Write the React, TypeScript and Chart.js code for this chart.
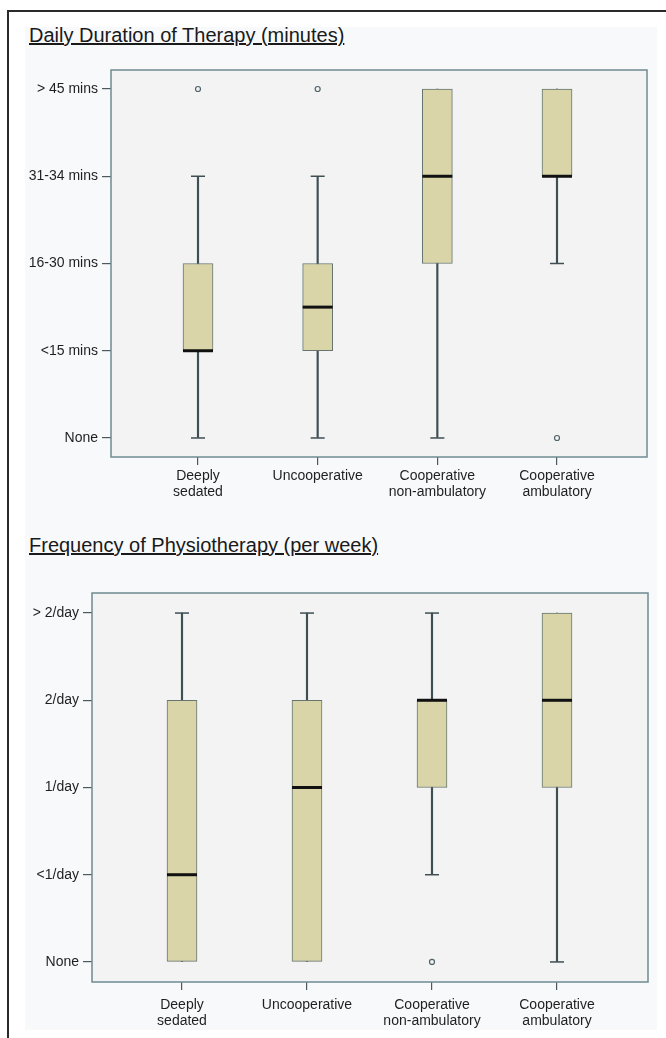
import React, { useEffect, useRef } from 'react';
import { Chart, registerables } from 'chart.js';

Chart.register(...registerables);

// ---------- data ----------
const categories: string[][] = [
  ['Deeply', 'sedated'],
  ['Uncooperative'],
  ['Cooperative', 'non-ambulatory'],
  ['Cooperative', 'ambulatory'],
];

// Daily duration: 0=None, 1=<15, 2=16-30, 3=31-34, 4=>45
const durationTicks = ['None', '<15 mins', '16-30 mins', '31-34 mins', '> 45 mins'];
const durationLow = [0, 0, 0, 2];
const durationQ1 = [1, 1, 2, 3];
const durationMedian = [1, 1.5, 3, 3];
const durationQ3 = [2, 2, 4, 4];
const durationHigh = [3, 3, 4, 4];
const durationOutliers = [[4], [4], [], [0]];

// Frequency: 0=None, 1=<1/day, 2=1/day, 3=2/day, 4=>2/day
const frequencyTicks = ['None', '<1/day', '1/day', '2/day', '> 2/day'];
const frequencyLow = [0, 0, 1, 0];
const frequencyQ1 = [0, 0, 2, 2];
const frequencyMedian = [1, 2, 3, 3];
const frequencyQ3 = [3, 3, 3, 4];
const frequencyHigh = [4, 4, 4, 4];
const frequencyOutliers = [[], [], [0], []];

const FONT = "'Liberation Sans', Arial, sans-serif";
const TEXT = '#1f1f1f';
const TICK_LINE = '#4a5a5f';

const plotFrame = {
  id: 'plotFrame',
  beforeDraw(chart: any) {
    const { ctx, chartArea } = chart;
    const { left, top, right, bottom } = chartArea;
    ctx.save();
    ctx.fillStyle = '#f3f3f3';
    ctx.fillRect(left, top, right - left, bottom - top);
    ctx.restore();
  },
  afterDatasetsDraw(chart: any) {
    const { ctx, chartArea } = chart;
    const { left, top, right, bottom } = chartArea;
    ctx.save();
    ctx.strokeStyle = '#6f8b90';
    ctx.lineWidth = 1.5;
    ctx.strokeRect(left, top, right - left, bottom - top);
    ctx.restore();
  },
};

interface Spec {
  ticks: string[];
  low: number[];
  q1: number[];
  median: number[];
  q3: number[];
  high: number[];
  outliers: number[][];
  xMin: number;
  xMax: number;
  yMin: number;
  yMax: number;
  yAxisWidth: number;
  xAxisHeight: number;
  rightPad: number;
  topPad: number;
  xLabelPad: number;
}

function makeConfig(s: Spec): any {
  const idx = categories.map((_, i) => i);
  const caps: { x: number; y: number }[] = [];
  idx.forEach((i) => {
    if (s.low[i] < s.q1[i]) caps.push({ x: i, y: s.low[i] });
    if (s.high[i] > s.q3[i]) caps.push({ x: i, y: s.high[i] });
  });
  const outPts: { x: number; y: number }[] = [];
  s.outliers.forEach((arr, i) => arr.forEach((v) => outPts.push({ x: i, y: v })));

  return {
    type: 'bar',
    data: {
      datasets: [
        {
          type: 'bar',
          label: 'whisker',
          data: idx.map((i) => ({ x: i, y: [s.low[i], s.high[i]] })),
          backgroundColor: '#3e4e53',
          borderWidth: 0,
          barThickness: 1.5,
          grouped: false,
          order: 5,
        },
        {
          type: 'bar',
          label: 'box',
          data: idx.map((i) => ({ x: i, y: [s.q1[i], s.q3[i]] })),
          backgroundColor: '#d9d5a9',
          borderColor: '#66766e',
          borderWidth: 1,
          borderSkipped: false,
          barThickness: 30,
          grouped: false,
          order: 4,
        },
        {
          type: 'scatter',
          label: 'caps',
          data: caps,
          pointStyle: 'line',
          pointRadius: 7,
          pointHoverRadius: 7,
          pointBorderColor: '#3e4e53',
          pointBorderWidth: 1.5,
          borderColor: '#3e4e53',
          order: 3,
        },
        {
          type: 'scatter',
          label: 'median',
          data: idx.map((i) => ({ x: i, y: s.median[i] })),
          pointStyle: 'line',
          pointRadius: 15,
          pointHoverRadius: 15,
          pointBorderColor: '#111111',
          pointBorderWidth: 3,
          borderColor: '#111111',
          order: 2,
        },
        {
          type: 'scatter',
          label: 'outliers',
          data: outPts,
          pointStyle: 'circle',
          pointRadius: 2.5,
          pointHoverRadius: 2.5,
          pointBorderColor: '#50636a',
          pointBackgroundColor: 'rgba(0,0,0,0)',
          pointBorderWidth: 1.2,
          order: 1,
        },
      ],
    },
    options: {
      responsive: true,
      maintainAspectRatio: false,
      animation: false,
      events: [],
      layout: { padding: { left: 0, right: s.rightPad, top: s.topPad, bottom: 0 } },
      plugins: {
        legend: { display: false },
        tooltip: { enabled: false },
        title: { display: false },
      },
      scales: {
        x: {
          type: 'linear',
          min: s.xMin,
          max: s.xMax,
          offset: false,
          afterBuildTicks: (sc: any) => {
            sc.ticks = categories.map((_, i) => ({ value: i }));
          },
          afterFit: (sc: any) => {
            sc.height = s.xAxisHeight;
          },
          ticks: {
            autoSkip: false,
            maxRotation: 0,
            minRotation: 0,
            padding: s.xLabelPad,
            color: TEXT,
            font: { family: FONT, size: 14, lineHeight: 1.15 },
            callback: (v: number) => categories[v],
          },
          grid: {
            offset: false,
            drawOnChartArea: false,
            drawTicks: true,
            tickLength: 8,
            color: TICK_LINE,
            lineWidth: 1.2,
          },
          border: { display: false },
        },
        y: {
          type: 'linear',
          min: s.yMin,
          max: s.yMax,
          afterBuildTicks: (sc: any) => {
            sc.ticks = s.ticks.map((_, i) => ({ value: i }));
          },
          afterFit: (sc: any) => {
            sc.width = s.yAxisWidth;
          },
          ticks: {
            padding: 4,
            color: TEXT,
            font: { family: FONT, size: 14 },
            callback: (v: number) => s.ticks[v],
          },
          grid: {
            offset: false,
            drawOnChartArea: false,
            drawTicks: true,
            tickLength: 9,
            color: TICK_LINE,
            lineWidth: 1.2,
          },
          border: { display: false },
        },
      },
    },
    plugins: [plotFrame],
  };
}

function BoxChart({ spec, style }: { spec: Spec; style: React.CSSProperties }) {
  const ref = useRef<HTMLCanvasElement | null>(null);
  useEffect(() => {
    if (!ref.current) return;
    const chart = new Chart(ref.current, makeConfig(spec));
    return () => chart.destroy();
  }, [spec]);
  return (
    <div style={{ position: 'absolute', ...style }}>
      <canvas ref={ref} />
    </div>
  );
}

const durationSpec: Spec = {
  ticks: durationTicks,
  low: durationLow,
  q1: durationQ1,
  median: durationMedian,
  q3: durationQ3,
  high: durationHigh,
  outliers: durationOutliers,
  xMin: -0.727,
  xMax: 3.752,
  yMin: -0.218,
  yMax: 4.218,
  yAxisWidth: 111,
  xAxisHeight: 63,
  rightPad: 19,
  topPad: 2,
  xLabelPad: 3,
};

const frequencySpec: Spec = {
  ticks: frequencyTicks,
  low: frequencyLow,
  q1: frequencyQ1,
  median: frequencyMedian,
  q3: frequencyQ3,
  high: frequencyHigh,
  outliers: frequencyOutliers,
  xMin: -0.72,
  xMax: 3.728,
  yMin: -0.23,
  yMax: 4.23,
  yAxisWidth: 92,
  xAxisHeight: 56,
  rightPad: 18,
  topPad: 2,
  xLabelPad: 7,
};

const titleStyle: React.CSSProperties = {
  position: 'absolute',
  left: 29,
  fontFamily: FONT,
  fontSize: 20,
  lineHeight: '24px',
  color: '#1a1a1a',
  textDecoration: 'underline',
  whiteSpace: 'nowrap',
};

export default function App() {
  return (
    <div
      style={{
        position: 'absolute',
        left: 0,
        top: 0,
        width: 666,
        height: 1038,
        overflow: 'hidden',
        background: '#ffffff',
      }}
    >
      <div
        style={{
          position: 'absolute',
          left: 7,
          top: 10,
          width: 700,
          height: 1100,
          borderTop: '2px solid #2a2a2a',
          borderLeft: '2px solid #2a2a2a',
        }}
      />
      <div
        style={{
          position: 'absolute',
          left: 25,
          top: 27,
          width: 632,
          height: 1003,
          background: '#f8f9fb',
        }}
      />
      <div style={{ ...titleStyle, top: 23 }}>Daily Duration of Therapy (minutes)</div>
      <BoxChart spec={durationSpec} style={{ left: 0, top: 52, width: 666, height: 468 }} />
      <div style={{ ...titleStyle, top: 533 }}>Frequency of Physiotherapy (per week)</div>
      <BoxChart spec={frequencySpec} style={{ left: 0, top: 575, width: 666, height: 463 }} />
    </div>
  );
}
